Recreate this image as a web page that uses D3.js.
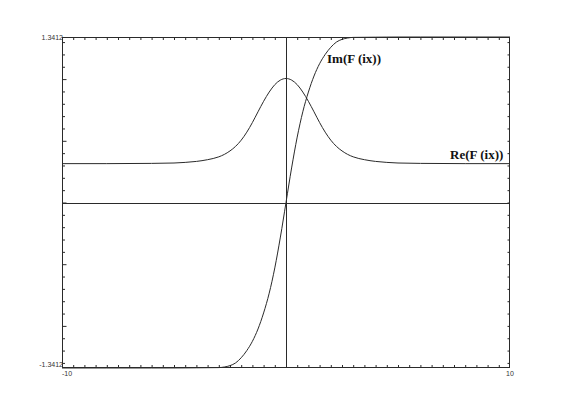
<!DOCTYPE html>
<html>
<head>
<meta charset="utf-8">
<script src="https://cdn.jsdelivr.net/npm/d3@7"></script>
<style>
  html, body { margin: 0; padding: 0; background: #fff; }
  svg { display: block; }
</style>
</head>
<body>
<svg id="chart" width="585" height="413"></svg>
<script>
// ---- data ----
const xValues  = [-10, -8, -6, -5, -4.5, -4, -3.5, -3, -2.75, -2.5, -2.25, -2, -1.75, -1.5, -1.25, -1, -0.75, -0.5, -0.25, 0,
                  0.25, 0.5, 0.75, 1, 1.25, 1.5, 1.75, 2, 2.25, 2.5, 2.75, 3, 3.5, 4, 4.5, 5, 6, 8, 10];
const reValues = [0.315, 0.315, 0.317, 0.32, 0.325, 0.333, 0.347, 0.37, 0.39, 0.418, 0.455, 0.505, 0.57, 0.648, 0.735, 0.82, 0.895, 0.955, 0.992, 1.005,
                  0.992, 0.955, 0.895, 0.82, 0.735, 0.648, 0.57, 0.505, 0.455, 0.418, 0.39, 0.37, 0.347, 0.333, 0.325, 0.32, 0.317, 0.315, 0.315];
const imValues = [-1.3412, -1.3412, -1.3411, -1.341, -1.3405, -1.3398, -1.3388, -1.338, -1.333, -1.322, -1.30, -1.258, -1.20, -1.125, -1.025, -0.895, -0.735, -0.53, -0.28, 0,
                  0.28, 0.53, 0.735, 0.895, 1.025, 1.125, 1.20, 1.258, 1.30, 1.322, 1.333, 1.338, 1.3388, 1.3398, 1.3405, 1.341, 1.3411, 1.3412, 1.3412];
const xDomain = [-10, 10];
const yDomain = [-1.3412, 1.3412];
const yLabels = ["-1.3412", "1.3412"];
const xLabels = ["-10", "10"];
const seriesNames = ["Re(F (ix))", "Im(F (ix))"];

// ---- layout ----
const pLeft = 62, pRight = 510, pTop = 37, pBottom = 368;
const svg = d3.select("#chart");
const x = d3.scaleLinear().domain(xDomain).range([pLeft, pRight]);
const y = d3.scaleLinear().domain(yDomain).range([pBottom, pTop]);
const ink = "#2a2a2a";

// ticks
const xTicks = d3.range(-19, 20).map(i => i * 0.5);
const yTicks = d3.range(-13, 14).map(i => +(i * 0.1).toFixed(1));

function styleAxis(g) {
  g.select(".domain").remove();
  g.selectAll("line").attr("stroke", ink).attr("stroke-width", 1);
  g.selectAll("text").remove();
}
svg.append("g").attr("transform", `translate(0,${pTop})`)
  .call(d3.axisBottom(x).tickValues(xTicks).tickSize(3).tickFormat(""))
  .call(styleAxis);
svg.append("g").attr("transform", `translate(0,${pBottom})`)
  .call(d3.axisTop(x).tickValues(xTicks).tickSize(3).tickFormat(""))
  .call(styleAxis);
svg.append("g").attr("transform", `translate(${pLeft},0)`)
  .call(d3.axisRight(y).tickValues(yTicks).tickSize(3).tickFormat(""))
  .call(styleAxis)
  .selectAll(".tick line").attr("x2", d => (Math.abs(d * 2 - Math.round(d * 2)) < 1e-6) ? 4.5 : 3);
svg.append("g").attr("transform", `translate(${pRight},0)`)
  .call(d3.axisLeft(y).tickValues(yTicks).tickSize(2.5).tickFormat(""))
  .call(styleAxis);

// frame
svg.append("rect")
  .attr("x", pLeft + 0.5).attr("y", pTop + 0.5)
  .attr("width", pRight - pLeft - 1).attr("height", pBottom - pTop - 1)
  .attr("fill", "none").attr("stroke", ink).attr("stroke-width", 1);

// zero axes
svg.append("line")
  .attr("x1", pLeft).attr("x2", pRight)
  .attr("y1", Math.round(y(0)) + 0.5).attr("y2", Math.round(y(0)) + 0.5)
  .attr("stroke", ink);
svg.append("line")
  .attr("x1", Math.round(x(0)) + 0.5).attr("x2", Math.round(x(0)) + 0.5)
  .attr("y1", pTop).attr("y2", pBottom)
  .attr("stroke", ink);

// curves
svg.append("clipPath").attr("id", "plotClip")
  .append("rect").attr("x", pLeft).attr("y", pTop - 1)
  .attr("width", pRight - pLeft).attr("height", pBottom - pTop + 2);

const line = d3.line().x(d => x(d[0])).y(d => y(d[1])).curve(d3.curveMonotoneX);
const reData = xValues.map((v, i) => [v, reValues[i]]);
const imData = xValues.map((v, i) => [v, imValues[i]]);
const plot = svg.append("g").attr("clip-path", "url(#plotClip)");
[reData, imData].forEach(data => {
  plot.append("path").datum(data)
    .attr("d", line)
    .attr("fill", "none")
    .attr("stroke", ink)
    .attr("stroke-width", 1);
});

// extent labels
const small = { "font-family": "Liberation Sans, Arial, sans-serif", "font-size": "7px", "fill": "#333" };
function addText(txt, px, py, anchor, base, attrs) {
  const t = svg.append("text").text(txt).attr("x", px).attr("y", py)
    .attr("text-anchor", anchor).attr("dominant-baseline", base);
  Object.entries(attrs).forEach(([k, v]) => t.attr(k, v));
  return t;
}
addText(yLabels[1], pLeft + 1, y(yDomain[1]) + 1, "end", "middle", small);
addText(yLabels[0], pLeft + 1, y(yDomain[0]) - 3, "end", "middle", small);
addText(xLabels[0], x(xDomain[0]), pBottom + 6, "start", "middle", small);
addText(xLabels[1], x(xDomain[1]), pBottom + 6, "middle", "middle", small);

// series labels
const big = { "font-family": "Liberation Serif, Times New Roman, serif", "font-size": "13px", "font-weight": "bold", "fill": "#111" };
addText(seriesNames[1], 327, 63, "start", "alphabetic", big);
addText(seriesNames[0], 450, 159, "start", "alphabetic", big);
</script>
</body>
</html>
